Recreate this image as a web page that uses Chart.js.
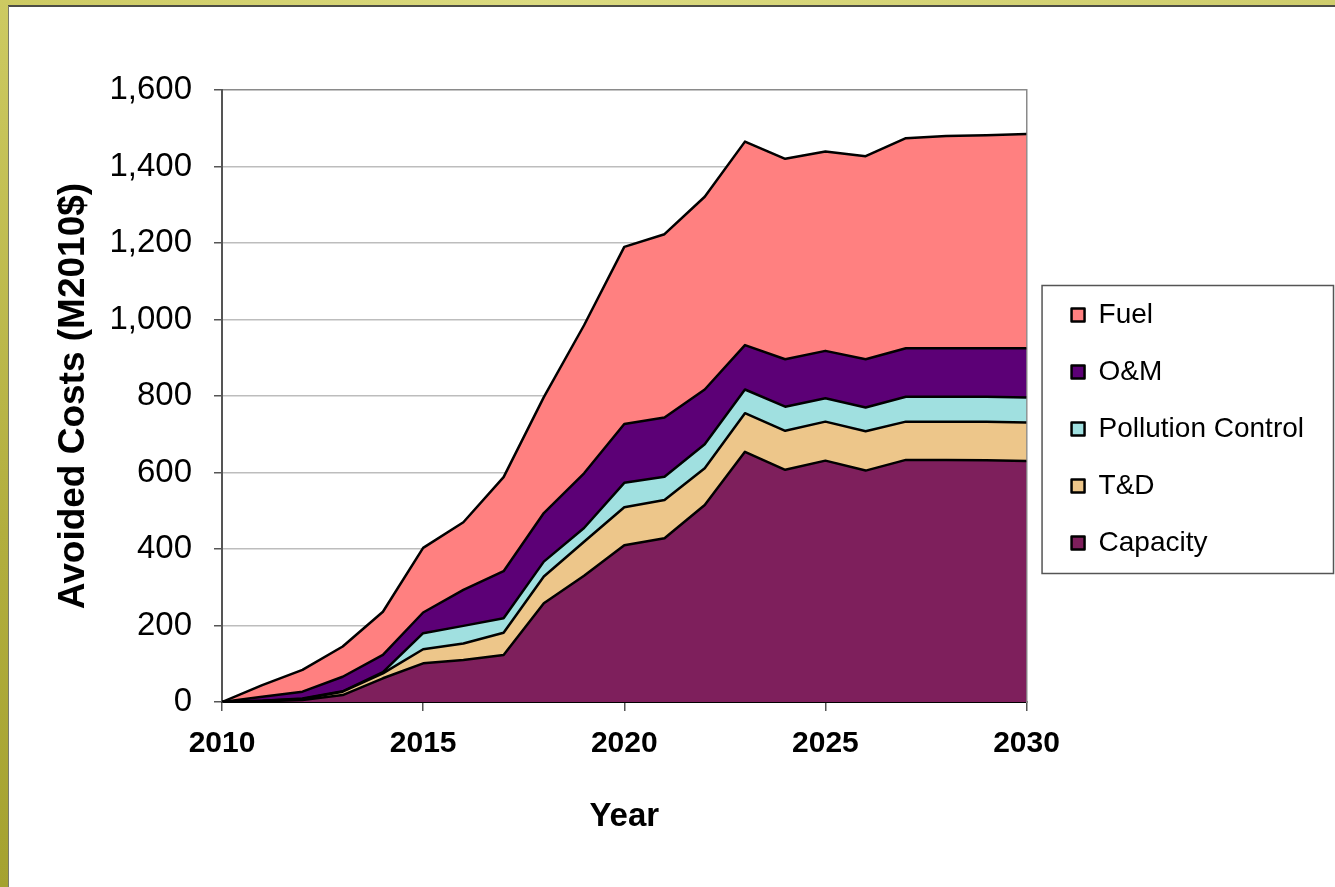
<!DOCTYPE html>
<html>
<head>
<meta charset="utf-8">
<script src="https://cdn.jsdelivr.net/npm/chart.js@4.4.1/dist/chart.umd.min.js"></script>
<style>
  html, body { margin: 0; padding: 0; background: #fff; overflow: hidden; }
  #frameTop { position: absolute; left: 0; top: 0; width: 1335px; height: 5px;
    background: linear-gradient(to right, #cdca62, #dcdb80 40%, #cfcd6c); }
  #frameTopLine { position: absolute; left: 0; top: 5px; width: 1335px; height: 2px; background: #4d4d45; }
  #frameLeft { position: absolute; left: 0; top: 0; width: 8px; height: 887px;
    background: linear-gradient(to bottom, #cdca62, #b2ae3e 60%, #a5a230); }
  #frameLeftLine { position: absolute; left: 8px; top: 6px; width: 1px; height: 881px; background: #7a7a6a; }
  #wrap { position: absolute; left: 9px; top: 7px; width: 1326px; height: 880px; }
</style>
</head>
<body>
<div id="frameTop"></div>
<div id="frameTopLine"></div>
<div id="frameLeft"></div>
<div id="frameLeftLine"></div>
<div id="wrap"><canvas id="avoided-costs" width="1326" height="880"></canvas></div>
<script>
var years = [2010, 2011, 2012, 2013, 2014, 2015, 2016, 2017, 2018, 2019, 2020,
    2021, 2022, 2023, 2024, 2025, 2026, 2027, 2028, 2029, 2030];

// values per component, M2010$
var capacity = [0, 2, 5, 18, 62, 101, 110, 123, 258, 330, 410, 428, 515, 654, 607, 631, 605, 633, 633, 632, 630];
var tnd = [0, 1, 3, 9, 13, 37, 43, 58, 70, 89, 99, 100, 96, 101, 102, 102, 103, 100, 100, 101, 101];
var pollution = [0, 0, 1, 1, 3, 42, 46, 38, 39, 36, 64, 61, 63, 62, 63, 61, 62, 65, 65, 65, 65];
var om = [0, 11, 18, 38, 45, 54, 94, 123, 127, 143, 154, 155, 143, 116, 124, 124, 126, 127, 127, 127, 129];
var fuel = [0, 30, 57, 79, 113, 169, 177, 246, 303, 387, 463, 479, 504, 532, 524, 521, 531, 549, 555, 557, 560];

var yTicks = [0, 200, 400, 600, 800, 1000, 1200, 1400, 1600];
var xTicks = [2010, 2015, 2020, 2025, 2030];

var FONT = "'Liberation Sans', Arial, sans-serif";

function pts(arr) {
    return years.map(function (yr, i) { return { x: yr, y: arr[i] }; });
}

function area(label, arr, color, fill) {
    return {
        label: label,
        data: pts(arr),
        backgroundColor: color,
        borderColor: "#000",
        borderWidth: 2.5,
        borderJoinStyle: "round",
        pointRadius: 0,
        tension: 0,
        fill: fill,
    };
}

// border round the legend, like the excel one
var legendFrame = {
    id: "legendFrame",
    afterDraw: function (chart) {
        var boxes = chart.legend.legendHitBoxes;
        if (!boxes || !boxes.length) return;
        var ctx = chart.ctx;
        var left = boxes[0].left - 30;
        var right = 0, top = 1e9, bottom = 0;
        boxes.forEach(function (b) {
            right = Math.max(right, b.left + b.width);
            top = Math.min(top, b.top + b.height / 2);
            bottom = Math.max(bottom, b.top + b.height / 2);
        });
        right = Math.min(right + 31, chart.width - 2);
        ctx.save();
        ctx.strokeStyle = "#555";
        ctx.lineWidth = 1.5;
        ctx.strokeRect(left + 0.5, top - 30 + 0.5, right - left, bottom - top + 60);
        ctx.restore();
    },
};

var ctx = document.getElementById("avoided-costs").getContext("2d");

var chart = new Chart(ctx, {
    type: "line",
    data: {
        datasets: [
            area("Capacity", capacity, "#7e1f5c", "origin"),
            area("T&D", tnd, "#edc68a", "-1"),
            area("Pollution Control", pollution, "#a0e0e0", "-1"),
            area("O&M", om, "#5c0076", "-1"),
            area("Fuel", fuel, "#ff8080", "-1"),
        ],
    },
    options: {
        responsive: false,
        animation: false,
        layout: { padding: { top: 83, right: 21, bottom: 0, left: 0 } },
        plugins: {
            tooltip: { enabled: false },
            legend: {
                position: "right",
                fullSize: false,
                reverse: true,
                maxWidth: 330,
                title: {
                    display: true,
                    text: " ",
                    font: { size: 10 },
                    padding: { top: 27, bottom: 27 },
                },
                labels: {
                    color: "#000",
                    boxWidth: 13,
                    boxHeight: 13,
                    padding: 29,
                    font: { family: FONT, size: 28 },
                },
            },
        },
        scales: {
            x: {
                type: "linear",
                min: 2010,
                max: 2030,
                afterFit: function (s) { s.height = 185; },
                afterBuildTicks: function (s) {
                    s.ticks = xTicks.map(function (v) { return { value: v }; });
                },
                ticks: {
                    color: "#000",
                    padding: 15,
                    maxRotation: 0,
                    font: { family: FONT, size: 30, weight: "bold" },
                    callback: function (v) { return String(v); },
                },
                grid: {
                    drawOnChartArea: false,
                    tickLength: 9,
                    tickColor: "#555",
                    lineWidth: 1.5,
                },
                border: { color: "#000", width: 2 },
                title: {
                    display: true,
                    text: "Year",
                    color: "#000",
                    padding: { top: 0, bottom: 50 },
                    font: { family: FONT, size: 33, weight: "bold" },
                },
            },
            y: {
                stacked: true,
                min: 0,
                max: 1600,
                afterFit: function (s) { s.width = 213; },
                afterBuildTicks: function (s) {
                    s.ticks = yTicks.map(function (v) { return { value: v }; });
                },
                ticks: {
                    color: "#000",
                    padding: 22,
                    font: { family: FONT, size: 33 },
                    callback: function (v) { return v.toLocaleString("en-US"); },
                },
                grid: {
                    tickLength: 8,
                    tickColor: "#555",
                    lineWidth: 1.5,
                    color: function (c) { return c.tick && c.tick.value === 1600 ? "#8a8a8a" : "#bdbdbd"; },
                },
                border: { color: "#555", width: 2 },
                title: {
                    display: true,
                    text: "Avoided Costs (M2010$)",
                    color: "#000",
                    padding: { top: 43, bottom: 0 },
                    font: { family: FONT, size: 37, weight: "bold" },
                },
            },
            // empty right axis: closes the plot box and keeps a gap before the legend
            edge: {
                type: "linear",
                position: "right",
                min: 0,
                max: 1600,
                afterFit: function (s) { s.width = 16; },
                ticks: { display: false },
                grid: { drawOnChartArea: false, drawTicks: false },
                border: { color: "#8a8a8a", width: 1.5 },
            },
        },
    },
    plugins: [legendFrame],
});
</script>
</body>
</html>
